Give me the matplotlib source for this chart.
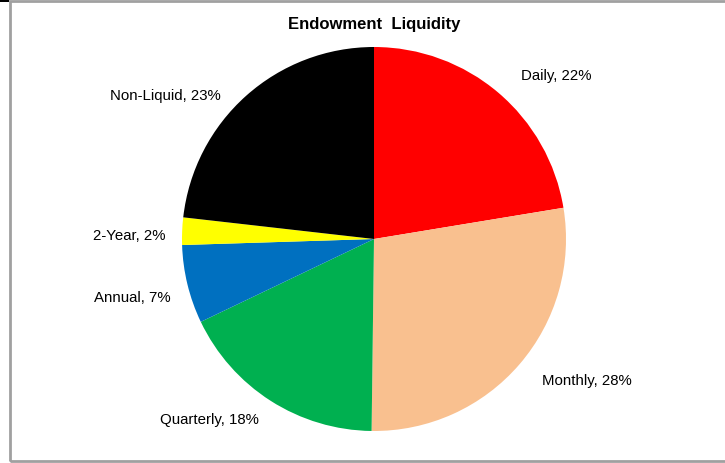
import matplotlib.pyplot as plt
from matplotlib.patches import Rectangle

plt.rcParams['font.family'] = ['Liberation Sans', 'DejaVu Sans']

#%% Data
names = ['Daily', 'Monthly', 'Quarterly', 'Annual', '2-Year', 'Non-Liquid']
shares = [22.4, 27.8, 17.7, 6.6, 2.3, 23.2]
colors = ['#FF0000', '#F9C08F', '#00B050', '#0070C0', '#FFFF00', '#000000']

# label positions in pie units (centre at 0,0, radius 1)
label_xy = [(0.948, 0.854), (1.109, -0.734), (-0.859, -0.9375),
            (-1.26, -0.302), (-1.276, 0.021), (-1.089, 0.75)]

#%% Plot
W, H = 725, 464
fig = plt.figure(figsize=(W/100, H/100), dpi=100)

# outer frame
fig.patches.append(Rectangle((9.5/W, 2/H), 1.0, 1 - 4/H, transform=fig.transFigure,
                             fill=False, edgecolor='#a0a0a0', linewidth=2))
fig.patches.append(Rectangle((0, 1 - 2.5/H), 9/W, 2.5/H, transform=fig.transFigure,
                             color='black', linewidth=0))

cx, cy, r = 374, 240, 192
ax = fig.add_axes([(cx - r)/W, 1 - (cy + r)/H, 2*r/W, 2*r/H])
ax.pie(shares, colors=colors, startangle=90, counterclock=False,
       wedgeprops={'linewidth': 0})
ax.set_xlim(-1, 1)
ax.set_ylim(-1, 1)
ax.set_aspect('auto')
ax.axis('off')

for n, s, (x, y) in zip(names, shares, label_xy):
    ax.text(x, y, '%s, %d%%' % (n, round(s)), ha='center', va='center', fontsize=10.8)

fig.text(cx/W, 1 - 24/H, 'Endowment  Liquidity', ha='center', va='center',
         fontsize=12, fontweight='bold')

plt.savefig('out.png', dpi=100)
